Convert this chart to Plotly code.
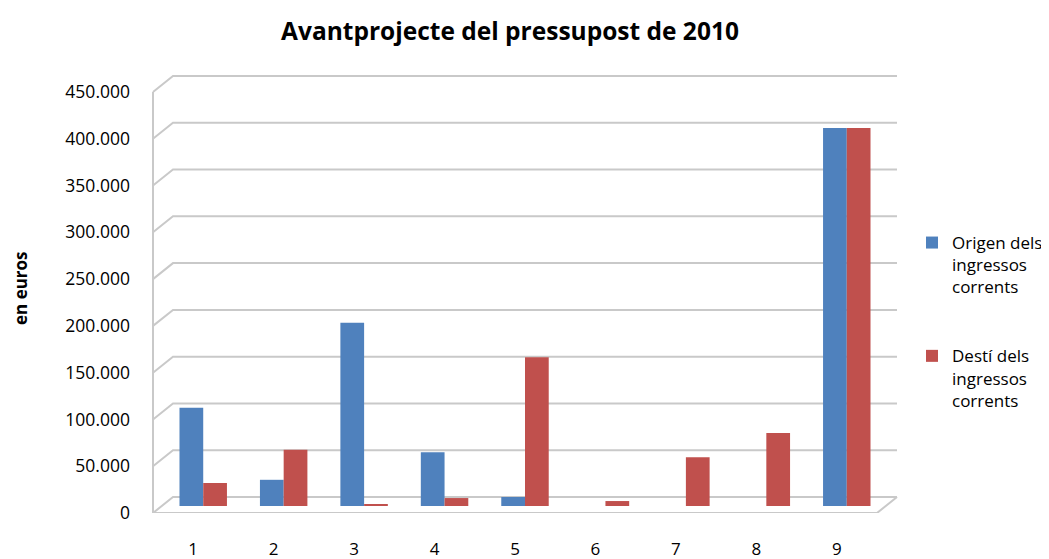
import plotly.graph_objects as go

# ---- data ----
categories = ["1", "2", "3", "4", "5", "6", "7", "8", "9"]
origen = [105000, 28000, 196000, 57500, 9600, 0, 0, 0, 404000]
desti = [24600, 60000, 1500, 8500, 159000, 5300, 52000, 78000, 404000]
series_names = ["Origen dels<br>ingressos<br>corrents", "Destí dels<br>ingressos<br>corrents"]
y_ticks = [0, 50000, 100000, 150000, 200000, 250000, 300000, 350000, 400000, 450000]

# ---- layout geometry (page pixels; the page body adds an 8px margin) ----
OFF = 8
FIG_W, FIG_H = 1049 - OFF, 559 - OFF
LEFT = 153 - OFF            # front-left edge of floor
FRONT_RIGHT = 877 - OFF     # front-right edge of floor
DX, DY = 20, 16             # perspective depth offset (front -> back wall)
MX, MY = 10, 7              # offset of the bar plane (middle depth)
BOTTOM = 513 - OFF          # front floor y
TOP = 60 - OFF              # top of plotting region
PX_PER_UNIT = 421 / 450000

plot_right = FRONT_RIGHT + MX
W = plot_right - LEFT
H = BOTTOM - TOP
front_w = FRONT_RIGHT - LEFT
yrange_top = (H - MY) / PX_PER_UNIT
dy_data = DY / PX_PER_UNIT

BLUE = "#4F81BD"
RED = "#C0504D"
GRID = "#C9C9C9"
FONT = "Open Sans"

fig = go.Figure()
fig.add_trace(go.Bar(
    x=list(range(len(categories))), y=origen, name=series_names[0], legendgroup="a",
    marker=dict(color=BLUE, line=dict(width=0)),
    xaxis="x2", yaxis="y2",
))
fig.add_trace(go.Bar(
    x=list(range(len(categories))), y=desti, name=series_names[1], legendgroup="b",
    marker=dict(color=RED, line=dict(width=0)),
    xaxis="x2", yaxis="y2",
))

# perspective walls / gridlines
shapes = []
xb_left = DX / W
xb_right = (FRONT_RIGHT + DX - LEFT) / W
x_front_right = front_w / W
for v in y_ticks:
    shapes.append(dict(
        type="path", xref="paper", yref="y", layer="below",
        path=f"M 0,{v} L {xb_left},{v + dy_data} L {xb_right},{v + dy_data}",
        line=dict(color=GRID, width=2),
    ))
shapes.append(dict(type="line", xref="paper", yref="y", layer="below",
                   x0=0, x1=0, y0=0, y1=y_ticks[-1], line=dict(color=GRID, width=2)))
shapes.append(dict(type="path", xref="paper", yref="y", layer="below",
                   path=f"M 0,0 L {x_front_right},0 L {xb_right},{dy_data}",
                   line=dict(color=GRID, width=2)))

fig.update_layout(
    width=FIG_W, height=FIG_H,
    margin=dict(l=LEFT, r=FIG_W - plot_right, t=TOP, b=FIG_H - BOTTOM, autoexpand=False),
    paper_bgcolor="white", plot_bgcolor="rgba(0,0,0,0)",
    separators=",.",
    font=dict(family=FONT, size=16, color="#000000"),
    title=dict(text="<b>Avantprojecte del pressupost de 2010</b>",
               x=(510 - OFF - LEFT) / W, xref="paper", xanchor="center",
               y=1 - (31 - OFF) / FIG_H, yref="container", yanchor="middle",
               font=dict(family=FONT, size=24.5, color="#000000")),
    barmode="group", bargap=0.41, bargroupgap=0.0,
    showlegend=True,
    legend=dict(x=(912 - OFF - LEFT) / W, xanchor="left", y=(BOTTOM - (225 - OFF)) / H,
                yanchor="top",
                font=dict(family=FONT, size=17), tracegroupgap=44, traceorder="grouped",
                valign="top", itemwidth=30, bgcolor="rgba(0,0,0,0)"),
    xaxis=dict(domain=[0, front_w / W], range=[-0.5, 8.5],
               tickvals=list(range(len(categories))), ticktext=categories,
               showgrid=False, zeroline=False, showline=False, ticks="",
               ticklabelstandoff=24, tickfont=dict(family=FONT, size=17), fixedrange=True,
               automargin=False),
    yaxis=dict(domain=[0, (H - MY) / H], range=[0, yrange_top],
               tickvals=y_ticks, tickformat=",d", showgrid=False, zeroline=False,
               showline=False, ticks="", ticklabelstandoff=22,
               tickfont=dict(family=FONT, size=17.5), automargin=False),
    xaxis2=dict(domain=[MX / W, 1], range=[-0.5, 8.5], anchor="y2", visible=False),
    yaxis2=dict(domain=[MY / H, 1], range=[0, yrange_top], anchor="x2", visible=False),
    shapes=shapes,
    annotations=[dict(text="<b>en euros</b>", textangle=-90, xref="paper", yref="paper",
                      x=(20 - OFF - LEFT) / W, y=(BOTTOM - (288 - OFF)) / H,
                      xanchor="center", yanchor="middle",
                      showarrow=False, font=dict(family=FONT, size=17, color="#000000"))],
)

fig.write_html("out.html")
